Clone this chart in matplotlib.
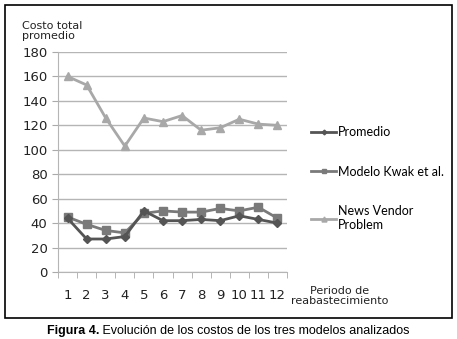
import matplotlib.pyplot as plt
from matplotlib.patches import Rectangle

periodos = list(range(1, 13))
promedio = [44, 27, 27, 29, 50, 42, 42, 43, 42, 46, 43, 40]
kwak = [45, 39, 34, 32, 48, 50, 49, 49, 52, 50, 53, 44]
news_vendor = [160, 153, 126, 103, 126, 123, 128, 116, 118, 125, 121, 120]

W, H = 457, 339
fig = plt.figure(figsize=(W / 100, H / 100), dpi=100)
fig.patch.set_facecolor('white')

# outer frame around the chart
fig.add_artist(Rectangle((5 / W, 1 - 318 / H), 447 / W, 313 / H, transform=fig.transFigure,
                         fill=False, edgecolor='black', linewidth=1.2))

ax = fig.add_axes([58 / W, 1 - 272 / H, 229 / W, 220 / H])
ax.plot(periodos, news_vendor, color='#a8a8a8', marker='^', markersize=6, linewidth=2,
        label='News Vendor\nProblem')
ax.plot(periodos, kwak, color='#7a7a7a', marker='s', markersize=6, linewidth=2,
        label='Modelo Kwak et al.')
ax.plot(periodos, promedio, color='#555555', marker='D', markersize=4, linewidth=2,
        label='Promedio')

ax.set_xlim(0.5, 12.5)
ax.set_ylim(0, 180)
ax.set_yticks(range(0, 181, 20))
ax.set_xticks(periodos)
ax.set_xticks([x + 0.5 for x in range(0, 13)], minor=True)
ax.tick_params(axis='x', which='major', length=0, pad=12, labelsize=9.5, labelcolor='#222222')
ax.tick_params(axis='x', which='minor', length=4, color='#aaaaaa', direction='out')
ax.tick_params(axis='y', length=4, color='#aaaaaa', labelsize=9.5, labelcolor='#222222')
ax.grid(axis='y', color='#b5b5b5', linewidth=1)
ax.set_axisbelow(True)
for s in ['top', 'right']:
    ax.spines[s].set_visible(False)
ax.spines['left'].set_color('#b5b5b5')
ax.spines['bottom'].set_color('#b5b5b5')

fig.text(22 / W, 1 - 31 / H, 'Costo total\npromedio', fontsize=8, ha='left', va='center',
         linespacing=0.9, color='#222222')
fig.text(340 / W, 1 - 296 / H, 'Periodo de\nreabastecimiento', fontsize=8, ha='center',
         va='center', linespacing=1.0, color='#222222')

handles, labels = ax.get_legend_handles_labels()
order = [2, 1, 0]
ax.legend([handles[i] for i in order], [labels[i] for i in order],
          loc='upper left', bbox_to_anchor=(300 / W, 1 - 115 / H), bbox_transform=fig.transFigure,
          frameon=False, prop={'family': 'Lato', 'size': 9}, labelspacing=2.2,
          handlelength=2.0, handletextpad=0.1, markerscale=0.6)

# caption: bold "Figura 4." followed by regular text
cap_y = 1 - 331 / H
t1 = fig.text(0, cap_y, 'Figura 4.', fontsize=9, fontweight='bold', family='Liberation Sans',
              ha='left', va='center')
t2 = fig.text(0, cap_y, ' Evolución de los costos de los tres modelos analizados', fontsize=9,
              family='Liberation Sans', ha='left', va='center')
fig.canvas.draw()
r = fig.canvas.get_renderer()
w1 = t1.get_window_extent(r).width
w2 = t2.get_window_extent(r).width
x0 = (228 - (w1 + w2) / 2) / W
t1.set_x(x0)
t2.set_x(x0 + w1 / W)

fig.savefig('out.png', dpi=100)
